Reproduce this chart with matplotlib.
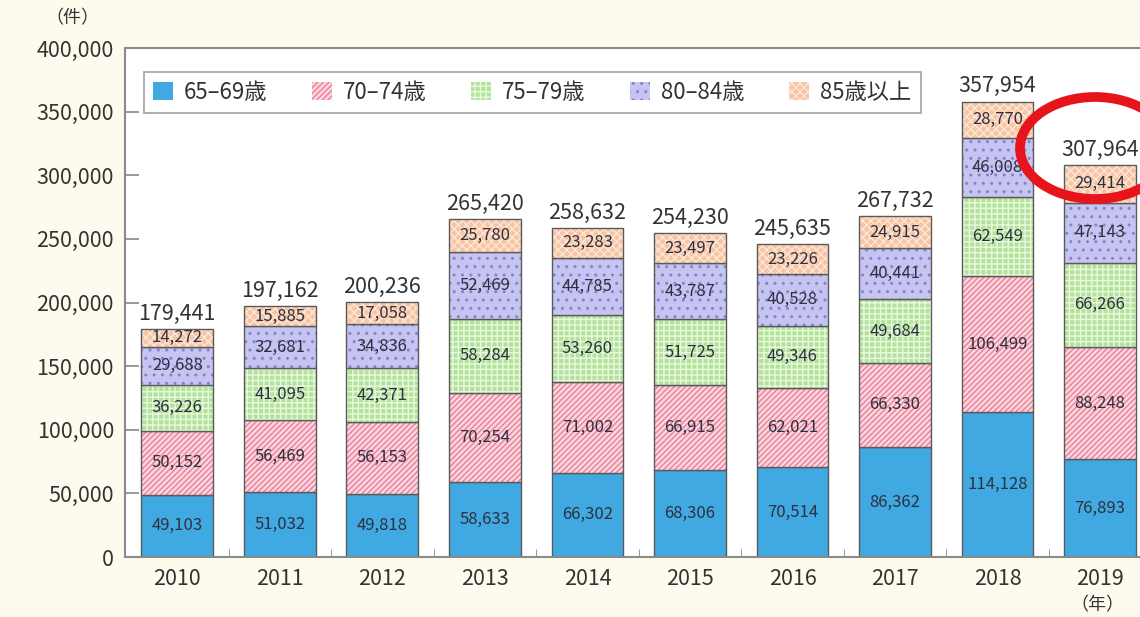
import matplotlib
matplotlib.use("Agg")
import matplotlib.pyplot as plt
from matplotlib.patches import Ellipse, Patch
import numpy as np

plt.rcParams['font.family'] = ['Noto Sans CJK JP', 'DejaVu Sans']
plt.rcParams['hatch.linewidth'] = 1.0

years = ['2010', '2011', '2012', '2013', '2014', '2015', '2016', '2017', '2018', '2019']
series_names = ['65–69歳', '70–74歳', '75–79歳', '80–84歳', '85歳以上']
age_65_69 = [49103, 51032, 49818, 58633, 66302, 68306, 70514, 86362, 114128, 76893]
age_70_74 = [50152, 56469, 56153, 70254, 71002, 66915, 62021, 66330, 106499, 88248]
age_75_79 = [36226, 41095, 42371, 58284, 53260, 51725, 49346, 49684, 62549, 66266]
age_80_84 = [29688, 32681, 34836, 52469, 44785, 43787, 40528, 40441, 46008, 47143]
age_85_up = [14272, 15885, 17058, 25780, 23283, 23497, 23226, 24915, 28770, 29414]
totals = [179441, 197162, 200236, 265420, 258632, 254230, 245635, 267732, 357954, 307964]
yticks = [0, 50000, 100000, 150000, 200000, 250000, 300000, 350000, 400000]

series = [age_65_69, age_70_74, age_75_79, age_80_84, age_85_up]
faces = ['#41a9e1', '#fbd6de', '#b2e39a', '#c6c4f1', '#f8c4a2']
hatch_cols = ['#41a9e1', '#ea7f98', '#eaf8e0', '#8582cc', '#fbe8da']
hatches = [None, '//////', '+++', '..', 'xxxx']

fig = plt.figure(figsize=(11.4, 6.17), dpi=100)
fig.patch.set_facecolor('#fdfaee')
ax = fig.add_axes([125/1140, 1-557/617, 1.05 - 125/1140, (557-48)/617])
ax.set_facecolor('white')

x = np.arange(len(years))
w = 0.70
bottom = np.zeros(len(years))
for vals, fc, hc, h in zip(series, faces, hatch_cols, hatches):
    vals = np.array(vals, dtype=float)
    ax.bar(x, vals, w, bottom=bottom, color=fc, edgecolor=hc, hatch=h, linewidth=0)
    ax.bar(x, vals, w, bottom=bottom, fill=False, edgecolor='#5a5a5a', linewidth=1.0)
    for xi, b, v in zip(x, bottom, vals):
        ax.text(xi, b + v/2, f'{int(v):,}', ha='center', va='center', fontsize=12, color='#2e3040')
    bottom += vals

for xi, t in zip(x, totals):
    ax.annotate(f'{t:,}', (xi, t), xytext=(0, 3), textcoords='offset points',
                ha='center', va='bottom', fontsize=15.5, color='#333333')

ax.set_xlim(-0.51, 9.39 + 0.05*1140/102.6)
ax.set_ylim(0, 400000)
ax.set_yticks(yticks)
ax.set_yticklabels([f'{v:,}' for v in yticks], fontsize=15.5, color='#333333')
ax.tick_params(axis='y', direction='in', length=10, width=1.2, color='#888888', pad=8)
ax.set_xticks(x)
ax.set_xticklabels(years, fontsize=15.5, color='#333333')
ax.tick_params(axis='x', which='major', length=0, pad=8)
ax.set_xticks(np.arange(0.5, 9.0, 1.0), minor=True)
ax.tick_params(axis='x', which='minor', direction='in', length=6, color='#888888')

for s in ['left', 'bottom', 'top']:
    ax.spines[s].set_color('#8a8a8a')
    ax.spines[s].set_linewidth(1.5)
ax.spines['right'].set_visible(False)

handles = [Patch(facecolor=fc, edgecolor=hc, hatch=h, linewidth=0) for fc, hc, h in zip(faces, hatch_cols, hatches)]
leg = ax.legend(handles, series_names, loc='upper left', bbox_to_anchor=(18/1015, (557-72)/509),
                ncol=5, fontsize=16, frameon=True, fancybox=False, handlelength=0.9, handleheight=0.9,
                handletextpad=0.5, columnspacing=2.0, borderpad=0.4, borderaxespad=0)
leg.get_frame().set_edgecolor('#8a8a8a')
leg.get_frame().set_linewidth(1.2)
for t in leg.get_texts():
    t.set_color('#333333')

fig.text(45/1140, 1-18/617, '（件）', fontsize=13, color='#333333', ha='left', va='center')
fig.text(1097/1140, 1-605/617, '（年）', fontsize=13, color='#333333', ha='center', va='center')

ell = Ellipse((1095/1140, 1-148/617), 150/1140, 102/617, transform=fig.transFigure,
              fill=False, edgecolor='#e8141b', linewidth=7, zorder=10)
fig.patches.append(ell)

fig.savefig('out.png', dpi=100, facecolor=fig.get_facecolor())
